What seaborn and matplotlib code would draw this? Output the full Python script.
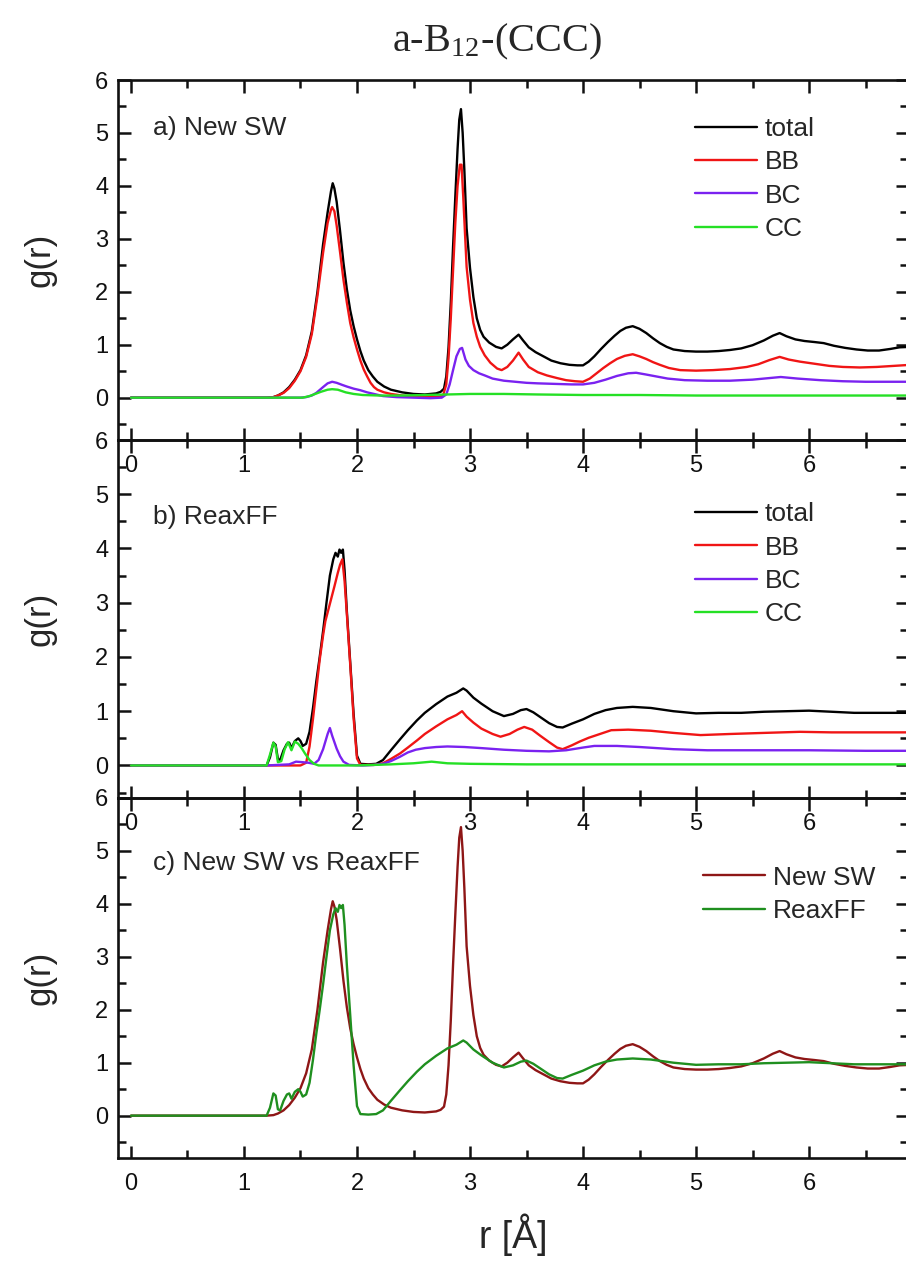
import matplotlib
matplotlib.use("Agg")
import matplotlib.pyplot as plt
from matplotlib.ticker import MultipleLocator
import seaborn as sns
import numpy as np

# ---------------- data ----------------
# Panel a: New SW
r_a_total = [0.0, 1.20, 1.26, 1.30, 1.35, 1.40, 1.45, 1.50, 1.55, 1.60, 1.65, 1.70, 1.74, 1.77, 1.785, 1.80, 1.82, 1.85, 1.88, 1.91, 1.94, 1.97, 2.00, 2.03, 2.06, 2.10, 2.14, 2.18, 2.24, 2.30, 2.40, 2.50, 2.60, 2.70, 2.74, 2.77, 2.79, 2.81, 2.83, 2.85, 2.87, 2.89, 2.905, 2.92, 2.935, 2.95, 2.97, 3.00, 3.03, 3.06, 3.09, 3.12, 3.17, 3.23, 3.28, 3.33, 3.38, 3.43, 3.47, 3.52, 3.58, 3.65, 3.72, 3.80, 3.88, 3.95, 4.00, 4.05, 4.10, 4.16, 4.22, 4.28, 4.33, 4.38, 4.44, 4.50, 4.56, 4.62, 4.68, 4.74, 4.80, 4.90, 5.00, 5.10, 5.20, 5.30, 5.40, 5.50, 5.60, 5.68, 5.74, 5.80, 5.88, 5.96, 6.05, 6.13, 6.22, 6.32, 6.42, 6.52, 6.62, 6.72, 6.80, 6.90]
g_a_total = [0.0, 0.0, 0.01, 0.04, 0.10, 0.20, 0.34, 0.52, 0.80, 1.25, 2.00, 2.90, 3.50, 3.90, 4.05, 3.95, 3.70, 3.15, 2.55, 2.05, 1.65, 1.35, 1.10, 0.88, 0.70, 0.52, 0.40, 0.30, 0.21, 0.15, 0.10, 0.07, 0.06, 0.08, 0.11, 0.17, 0.40, 0.95, 1.80, 2.85, 3.80, 4.70, 5.25, 5.45, 5.00, 4.30, 3.20, 2.45, 1.90, 1.50, 1.28, 1.15, 1.04, 0.96, 0.93, 1.00, 1.10, 1.19, 1.08, 0.95, 0.86, 0.78, 0.70, 0.65, 0.62, 0.61, 0.61, 0.68, 0.78, 0.92, 1.05, 1.17, 1.26, 1.32, 1.35, 1.30, 1.22, 1.12, 1.03, 0.96, 0.91, 0.88, 0.87, 0.87, 0.88, 0.90, 0.93, 0.99, 1.08, 1.17, 1.22, 1.16, 1.10, 1.07, 1.05, 1.03, 0.98, 0.94, 0.91, 0.89, 0.89, 0.92, 0.95, 0.96]

r_a_bb = [0.0, 1.22, 1.26, 1.30, 1.35, 1.40, 1.45, 1.50, 1.55, 1.60, 1.65, 1.70, 1.74, 1.77, 1.78, 1.80, 1.82, 1.85, 1.88, 1.91, 1.94, 1.97, 2.00, 2.03, 2.06, 2.09, 2.12, 2.15, 2.18, 2.24, 2.30, 2.40, 2.50, 2.60, 2.70, 2.76, 2.79, 2.81, 2.83, 2.85, 2.87, 2.89, 2.91, 2.925, 2.94, 2.97, 3.00, 3.03, 3.06, 3.09, 3.13, 3.18, 3.24, 3.28, 3.33, 3.38, 3.43, 3.47, 3.52, 3.60, 3.68, 3.77, 3.85, 3.93, 4.00, 4.06, 4.12, 4.18, 4.24, 4.30, 4.37, 4.44, 4.50, 4.56, 4.62, 4.68, 4.76, 4.86, 5.00, 5.15, 5.30, 5.45, 5.55, 5.65, 5.74, 5.82, 5.92, 6.05, 6.18, 6.30, 6.45, 6.60, 6.75, 6.90]
g_a_bb = [0.0, 0.0, 0.01, 0.04, 0.09, 0.18, 0.32, 0.50, 0.77, 1.20, 1.92, 2.74, 3.30, 3.55, 3.60, 3.52, 3.25, 2.75, 2.23, 1.80, 1.41, 1.14, 0.91, 0.70, 0.53, 0.40, 0.28, 0.20, 0.15, 0.10, 0.07, 0.04, 0.02, 0.01, 0.01, 0.03, 0.25, 0.75, 1.50, 2.40, 3.30, 4.00, 4.40, 4.40, 3.80, 2.47, 1.85, 1.41, 1.15, 0.96, 0.80, 0.66, 0.55, 0.52, 0.58, 0.70, 0.85, 0.72, 0.58, 0.48, 0.42, 0.37, 0.33, 0.31, 0.30, 0.36, 0.46, 0.56, 0.65, 0.73, 0.79, 0.82, 0.78, 0.73, 0.67, 0.62, 0.56, 0.52, 0.51, 0.52, 0.54, 0.58, 0.63, 0.71, 0.77, 0.72, 0.68, 0.64, 0.60, 0.58, 0.57, 0.58, 0.60, 0.62]

r_a_bc = [0.0, 1.50, 1.55, 1.60, 1.64, 1.70, 1.74, 1.78, 1.82, 1.87, 1.91, 1.97, 2.03, 2.09, 2.15, 2.23, 2.35, 2.50, 2.65, 2.75, 2.79, 2.82, 2.85, 2.88, 2.91, 2.93, 2.96, 2.99, 3.03, 3.08, 3.13, 3.20, 3.30, 3.40, 3.50, 3.60, 3.75, 3.90, 4.00, 4.10, 4.20, 4.30, 4.40, 4.47, 4.55, 4.65, 4.75, 4.90, 5.10, 5.30, 5.50, 5.65, 5.75, 5.90, 6.10, 6.30, 6.50, 6.70, 6.90]
g_a_bc = [0.0, 0.0, 0.01, 0.04, 0.09, 0.20, 0.27, 0.30, 0.28, 0.24, 0.21, 0.17, 0.14, 0.10, 0.07, 0.03, 0.01, 0.00, -0.01, 0.00, 0.06, 0.25, 0.52, 0.78, 0.92, 0.94, 0.72, 0.60, 0.52, 0.46, 0.42, 0.36, 0.32, 0.30, 0.28, 0.27, 0.26, 0.25, 0.25, 0.28, 0.34, 0.41, 0.46, 0.47, 0.44, 0.40, 0.36, 0.33, 0.32, 0.32, 0.34, 0.37, 0.39, 0.36, 0.33, 0.31, 0.30, 0.30, 0.30]

r_a_cc = [0.0, 1.52, 1.58, 1.63, 1.68, 1.74, 1.78, 1.83, 1.90, 1.97, 2.05, 2.20, 2.40, 2.60, 2.80, 3.00, 3.30, 3.60, 4.00, 4.50, 5.00, 5.50, 6.00, 6.50, 6.90]
g_a_cc = [0.0, 0.0, 0.03, 0.07, 0.11, 0.15, 0.16, 0.15, 0.10, 0.07, 0.05, 0.04, 0.04, 0.05, 0.06, 0.07, 0.07, 0.06, 0.05, 0.05, 0.04, 0.04, 0.04, 0.04, 0.04]

# Panel b: ReaxFF
r_b_total = [0.0, 1.20, 1.23, 1.26, 1.28, 1.30, 1.32, 1.35, 1.38, 1.40, 1.42, 1.45, 1.48, 1.50, 1.52, 1.55, 1.58, 1.61, 1.64, 1.67, 1.70, 1.73, 1.76, 1.79, 1.81, 1.83, 1.845, 1.86, 1.875, 1.89, 1.91, 1.94, 1.97, 2.00, 2.03, 2.10, 2.17, 2.23, 2.30, 2.38, 2.45, 2.53, 2.60, 2.70, 2.80, 2.88, 2.94, 2.97, 3.03, 3.10, 3.20, 3.30, 3.38, 3.45, 3.50, 3.56, 3.63, 3.70, 3.77, 3.82, 3.90, 4.00, 4.10, 4.20, 4.30, 4.44, 4.60, 4.80, 5.00, 5.20, 5.40, 5.60, 5.80, 6.00, 6.20, 6.40, 6.60, 6.90]
g_b_total = [0.0, 0.0, 0.15, 0.42, 0.38, 0.12, 0.10, 0.28, 0.40, 0.42, 0.32, 0.45, 0.50, 0.45, 0.36, 0.40, 0.62, 1.05, 1.55, 2.00, 2.48, 3.00, 3.50, 3.80, 3.92, 3.85, 3.98, 3.92, 3.98, 3.60, 2.85, 1.90, 0.95, 0.18, 0.03, 0.02, 0.03, 0.10, 0.28, 0.48, 0.65, 0.83, 0.97, 1.13, 1.27, 1.34, 1.42, 1.38, 1.25, 1.14, 1.00, 0.91, 0.95, 1.02, 1.04, 0.98, 0.88, 0.78, 0.71, 0.70, 0.77, 0.85, 0.95, 1.02, 1.06, 1.08, 1.06, 1.00, 0.96, 0.97, 0.97, 0.99, 1.00, 1.01, 0.99, 0.97, 0.97, 0.97]

r_b_bb = [0.0, 1.50, 1.55, 1.58, 1.61, 1.64, 1.67, 1.70, 1.72, 1.76, 1.80, 1.83, 1.85, 1.87, 1.89, 1.91, 1.94, 1.97, 2.00, 2.03, 2.15, 2.23, 2.30, 2.38, 2.45, 2.53, 2.60, 2.70, 2.80, 2.88, 2.93, 2.97, 3.03, 3.10, 3.20, 3.27, 3.35, 3.42, 3.48, 3.55, 3.62, 3.70, 3.77, 3.82, 3.90, 3.97, 4.05, 4.15, 4.25, 4.40, 4.60, 4.80, 5.04, 5.30, 5.60, 5.92, 6.20, 6.50, 6.90]
g_b_bb = [0.0, 0.0, 0.05, 0.35, 0.85, 1.40, 1.95, 2.40, 2.66, 2.98, 3.30, 3.55, 3.70, 3.80, 3.40, 2.80, 1.86, 0.87, 0.13, 0.01, 0.01, 0.04, 0.12, 0.22, 0.33, 0.46, 0.58, 0.72, 0.85, 0.93, 1.00, 0.90, 0.79, 0.68, 0.58, 0.53, 0.58, 0.66, 0.71, 0.66, 0.55, 0.43, 0.33, 0.30, 0.37, 0.44, 0.51, 0.58, 0.65, 0.66, 0.64, 0.60, 0.56, 0.58, 0.60, 0.62, 0.61, 0.61, 0.61]

r_b_bc = [0.0, 1.20, 1.40, 1.46, 1.52, 1.57, 1.62, 1.66, 1.70, 1.74, 1.76, 1.78, 1.82, 1.85, 1.88, 1.93, 2.05, 2.15, 2.23, 2.30, 2.38, 2.45, 2.52, 2.60, 2.70, 2.80, 2.95, 3.10, 3.30, 3.50, 3.70, 3.85, 4.00, 4.10, 4.30, 4.50, 4.80, 5.10, 5.50, 6.00, 6.50, 6.90]
g_b_bc = [0.0, 0.0, 0.02, 0.07, 0.06, 0.05, 0.03, 0.10, 0.30, 0.58, 0.69, 0.55, 0.31, 0.17, 0.07, 0.01, 0.00, 0.01, 0.03, 0.08, 0.16, 0.24, 0.29, 0.32, 0.34, 0.35, 0.34, 0.32, 0.29, 0.27, 0.26, 0.28, 0.33, 0.36, 0.36, 0.34, 0.30, 0.28, 0.28, 0.28, 0.27, 0.27]

r_b_cc = [0.0, 1.20, 1.23, 1.26, 1.28, 1.30, 1.33, 1.36, 1.39, 1.42, 1.45, 1.48, 1.51, 1.54, 1.58, 1.62, 1.66, 2.00, 2.30, 2.50, 2.66, 2.80, 3.00, 3.50, 4.00, 5.00, 6.00, 6.90]
g_b_cc = [0.0, 0.0, 0.20, 0.42, 0.35, 0.06, 0.08, 0.30, 0.43, 0.28, 0.44, 0.40, 0.32, 0.22, 0.10, 0.03, 0.00, 0.00, 0.02, 0.04, 0.07, 0.04, 0.03, 0.02, 0.02, 0.02, 0.02, 0.02]

labels_partial = ["total", "BB", "BC", "CC"]
labels_compare = ["New SW", "ReaxFF"]
panel_titles = ["a) New SW", "b) ReaxFF", "c) New SW vs ReaxFF"]
title_text = "a-B$_{\\mathregular{12}}$-(CCC)"
x_ticks = [0, 1, 2, 3, 4, 5, 6]
y_ticks = [0, 1, 2, 3, 4, 5, 6]

# ---------------- style ----------------
sns.set_style("ticks")
plt.rcParams["font.family"] = ["Liberation Sans", "DejaVu Sans"]
plt.rcParams["mathtext.fontset"] = "stix"

col_partial = ["#000000", "#F01515", "#7A22F0", "#25E025"]
col_compare = ["#8E1616", "#1F8F1F"]
LW = 1.7

fig = plt.figure(figsize=(9.06, 12.64), dpi=100)
FW, FH = 906.0, 1264.0
left = 118 / FW
width = 790 / FW
boxes = [(80, 440), (440, 798), (798, 1158)]
ylims = [(-0.8, 6.0), (-0.6, 6.0), (-0.8, 6.0)]
axes = []
for (top, bot) in boxes:
    ax = fig.add_axes([left, 1 - bot / FH, width, (bot - top) / FH])
    axes.append(ax)

def style_axis(ax, ylim):
    ax.set_xlim(-0.115, 6.876)
    ax.set_ylim(*ylim)
    ax.set_xticks(x_ticks)
    ax.set_yticks(y_ticks)
    ax.xaxis.set_minor_locator(MultipleLocator(0.5))
    ax.yaxis.set_minor_locator(MultipleLocator(0.5))
    ax.tick_params(which="both", direction="in", top=True, right=True, width=1.8, colors="#111111")
    ax.tick_params(which="major", length=9, labelsize=17)
    ax.tick_params(which="minor", length=5.5)
    ax.tick_params(axis="x", which="major", pad=11)
    ax.tick_params(axis="y", which="major", pad=7)
    for s in ax.spines.values():
        s.set_linewidth(1.9)
        s.set_color("#111111")
    ax.patch.set_alpha(0)
    ax.set_ylabel("g(r)", fontsize=25, va="center")
    ax.yaxis.set_label_coords(-0.099, 0.5)
    ax.set_xlabel("")

# Panel a
ax = axes[0]
for r, g, c, lab in zip([r_a_total, r_a_bb, r_a_bc, r_a_cc],
                        [g_a_total, g_a_bb, g_a_bc, g_a_cc],
                        col_partial, labels_partial):
    sns.lineplot(x=r, y=g, ax=ax, color=c, linewidth=LW, label=lab, sort=False)

# Panel b
ax = axes[1]
for r, g, c, lab in zip([r_b_total, r_b_bb, r_b_bc, r_b_cc],
                        [g_b_total, g_b_bb, g_b_bc, g_b_cc],
                        col_partial, labels_partial):
    sns.lineplot(x=r, y=g, ax=ax, color=c, linewidth=LW, label=lab, sort=False)

# Panel c
ax = axes[2]
for r, g, c, lab in zip([r_a_total, r_b_total], [g_a_total, g_b_total],
                        col_compare, labels_compare):
    sns.lineplot(x=r, y=g, ax=ax, color=c, linewidth=LW, label=lab, sort=False)

for ax, yl in zip(axes, ylims):
    style_axis(ax, yl)

leg_pos = [(0.730, 0.897), (0.730, 0.826), (0.741, 0.812)]
txt_pos = [0.867, 0.785, 0.819]
for ax, lp, ty, pt in zip(axes, leg_pos, txt_pos, panel_titles):
    ax.legend(loc="upper left", bbox_to_anchor=lp, frameon=False, fontsize=19,
              handlelength=2.35, handletextpad=0.3, labelspacing=0.35,
              borderpad=0, borderaxespad=0)
    ax.text(0.044, ty, pt, transform=ax.transAxes, fontsize=19, va="center", ha="left")

axes[2].set_xlabel("r [Å]", fontsize=27, va="center")
axes[2].xaxis.set_label_coords(0.5, -0.214)

fig.text(497 / FW, 1 - 42 / FH, title_text, ha="center", va="center",
         fontsize=29, family=["Liberation Serif", "DejaVu Serif"])

fig.savefig("out.png", dpi=100)
